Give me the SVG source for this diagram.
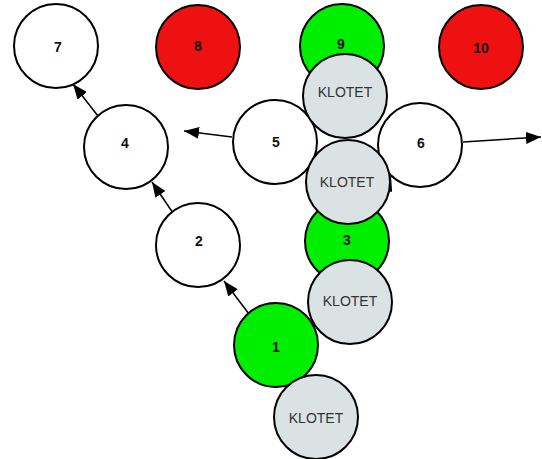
<svg xmlns="http://www.w3.org/2000/svg" width="542" height="459" viewBox="0 0 542 459">
<defs>
<marker id="ah" markerUnits="userSpaceOnUse" markerWidth="16" markerHeight="12" refX="15" refY="6" orient="auto">
<path d="M0,0 L15,6 L0,12 z" fill="#000"/>
</marker>
<style>
.c{stroke:#000;stroke-width:2}
.w{fill:#fff}
.g{fill:#00ee00}
.r{fill:#ee1111}
.k{fill:#dbe2e4}
.n{font-family:"Liberation Sans",Arial,sans-serif;font-size:14px;font-weight:bold;fill:#111;text-anchor:middle;dominant-baseline:central}
.kt{font-family:"Liberation Sans",Arial,sans-serif;font-size:14px;fill:#333;text-anchor:middle;dominant-baseline:central}
.e{stroke:#000;stroke-width:1.5;fill:none;marker-end:url(#ah)}
</style>
</defs>
<rect width="542" height="459" fill="#fff"/>
<g id="connectors">
<line class="e" x1="249" y1="314" x2="224" y2="281"/>
<line class="e" x1="173" y1="213" x2="152" y2="182"/>
<line class="e" x1="98" y1="116" x2="73" y2="84"/>
<line class="e" x1="232" y1="137" x2="184" y2="131"/>
<line class="e" x1="463" y1="142" x2="541" y2="137"/>
<line class="e" x1="384" y1="198" x2="391" y2="176"/>
</g>
<g id="n7"><circle class="c w" cx="56" cy="46" r="42"/><text class="n" x="58" y="47">7</text></g>
<g id="n8"><circle class="c r" cx="198" cy="47" r="42"/><text class="n" x="198" y="46">8</text></g>
<g id="n9"><circle class="c g" cx="342" cy="46" r="42"/><text class="n" x="341" y="44">9</text></g>
<g id="n10"><circle class="c r" cx="481" cy="47" r="42"/><text class="n" x="481" y="48">10</text></g>
<g id="n4"><circle class="c w" cx="126" cy="147" r="42"/><text class="n" x="125" y="143">4</text></g>
<g id="n5"><circle class="c w" cx="275" cy="142" r="42"/><text class="n" x="276" y="142">5</text></g>
<g id="n6"><circle class="c w" cx="420" cy="145" r="42"/><text class="n" x="421" y="143">6</text></g>
<g id="n2"><circle class="c w" cx="198" cy="245" r="42"/><text class="n" x="199" y="241">2</text></g>
<g id="n3"><circle class="c g" cx="347" cy="241" r="42"/><text class="n" x="347" y="240">3</text></g>
<g id="n1"><circle class="c g" cx="276" cy="345" r="42"/><text class="n" x="276" y="347">1</text></g>
<g id="k1"><circle class="c k" cx="345" cy="96" r="42"/><text class="kt" x="345" y="92">KLOTET</text></g>
<g id="k2"><circle class="c k" cx="348" cy="182" r="42"/><text class="kt" x="347" y="182">KLOTET</text></g>
<g id="k3"><circle class="c k" cx="350" cy="302" r="42"/><text class="kt" x="350" y="301">KLOTET</text></g>
<g id="k4"><circle class="c k" cx="316" cy="417" r="42"/><text class="kt" x="316" y="418">KLOTET</text></g>
</svg>
